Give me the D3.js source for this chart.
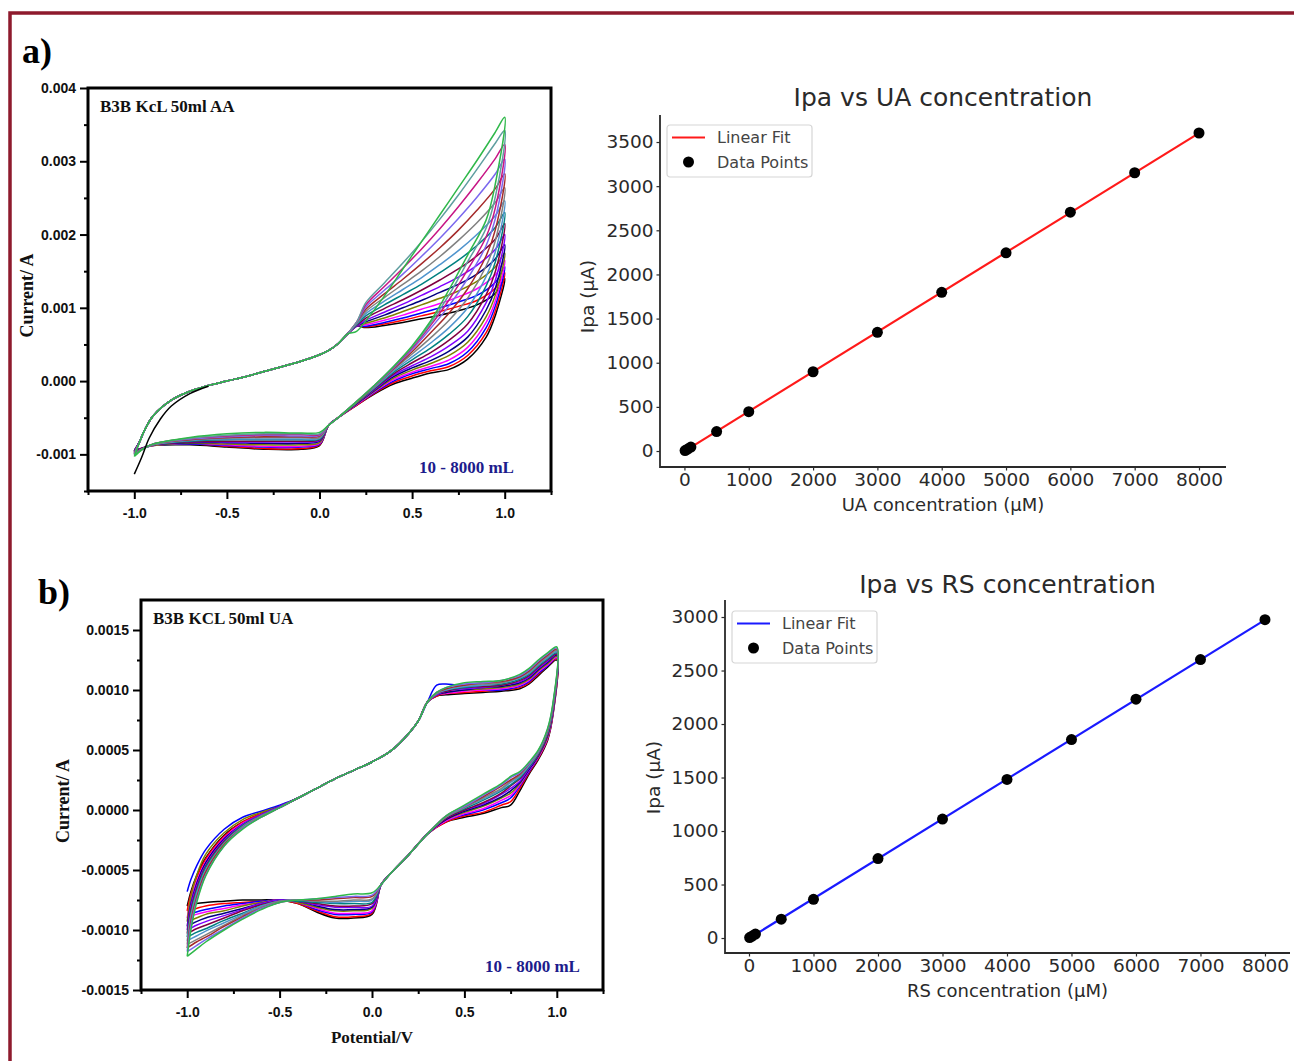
<!DOCTYPE html>
<html>
<head>
<meta charset="utf-8">
<script src="https://cdn.jsdelivr.net/npm/d3@7"></script>
<style>
  body { margin: 0; background: #fff; }
</style>
</head>
<body>
<script>
// ---------- panel a, left: CV curves (B3B KcL 50ml AA) ----------
// shared forward sweep, -0.97 .. 0.15 V
const aFwdCommonE = [-0.97, -0.95, -0.9, -0.8, -0.7, -0.6, -0.5, -0.4, -0.3, -0.2, -0.1, 0.0, 0.05, 0.1, 0.15];
const aFwdCommonI = [-0.00082, -0.0007, -0.00048, -0.00026, -0.00014, -0.00006, 0.0, 0.00006, 0.00013, 0.0002, 0.00027, 0.00036, 0.00042, 0.00051, 0.00064];
// forward sweep after the shoulder, one row per scan
const aFwdFanE = [0.2, 0.25, 0.35, 0.45, 0.55, 0.65, 0.75, 0.85, 0.95, 1.0];
const aFwdFanI = [
  [0.00075, 0.00073, 0.00076, 0.0008, 0.00085, 0.0009, 0.00096, 0.00104, 0.0012, 0.0014],
  [0.00075, 0.00074, 0.00078, 0.00083, 0.00089, 0.00095, 0.00102, 0.0011, 0.00127, 0.00148],
  [0.00075, 0.00075, 0.0008, 0.00086, 0.00093, 0.001, 0.00108, 0.00117, 0.00135, 0.00156],
  [0.00075, 0.00077, 0.00083, 0.0009, 0.00098, 0.00106, 0.00115, 0.00126, 0.00145, 0.00165],
  [0.00075, 0.00079, 0.00086, 0.00095, 0.00104, 0.00113, 0.00123, 0.00136, 0.00156, 0.00175],
  [0.00075, 0.00081, 0.0009, 0.001, 0.0011, 0.00121, 0.00132, 0.00146, 0.00167, 0.00186],
  [0.00075, 0.00083, 0.00094, 0.00105, 0.00117, 0.00129, 0.00142, 0.00158, 0.0018, 0.002],
  [0.00076, 0.00086, 0.00099, 0.00111, 0.00124, 0.00138, 0.00153, 0.00171, 0.00194, 0.00215],
  [0.00077, 0.00089, 0.00104, 0.00118, 0.00132, 0.00148, 0.00165, 0.00185, 0.0021, 0.0023],
  [0.00078, 0.00092, 0.00109, 0.00125, 0.00141, 0.00159, 0.00178, 0.002, 0.00226, 0.00246],
  [0.00079, 0.00095, 0.00114, 0.00132, 0.0015, 0.0017, 0.00192, 0.00216, 0.00244, 0.00264],
  [0.0008, 0.00098, 0.00119, 0.00139, 0.0016, 0.00182, 0.00206, 0.00233, 0.00263, 0.00283],
  [0.0008, 0.00101, 0.00124, 0.00146, 0.0017, 0.00195, 0.00222, 0.00251, 0.00283, 0.00303],
  [0.0008, 0.00104, 0.00129, 0.00154, 0.0018, 0.00208, 0.00238, 0.0027, 0.00304, 0.00323],
  [0.0008, 0.00107, 0.00134, 0.00161, 0.0019, 0.00221, 0.00254, 0.00289, 0.00325, 0.00342],
  [0.00068, 0.00082, 0.00116, 0.00153, 0.0019, 0.00227, 0.00264, 0.00301, 0.0034, 0.0036]
];
// reverse sweep from +1.0 V
const aRevFanE = [0.95, 0.9, 0.8, 0.7, 0.6, 0.5, 0.4, 0.3, 0.2, 0.1, 0.05];
const aRevFanI = [
  [0.0009, 0.0006, 0.0003, 0.00016, 0.00011, 0.00004, -0.00004, -0.00017, -0.00033, -0.0005, -0.0006],
  [0.00096, 0.00066, 0.00035, 0.0002, 0.00014, 0.00007, -0.00002, -0.00016, -0.00033, -0.0005, -0.0006],
  [0.00103, 0.00073, 0.0004, 0.00024, 0.00017, 0.0001, 0.0, -0.00015, -0.00032, -0.0005, -0.0006],
  [0.0011, 0.0008, 0.00046, 0.00029, 0.0002, 0.00012, 0.00002, -0.00014, -0.00032, -0.0005, -0.0006],
  [0.00118, 0.00088, 0.00053, 0.00035, 0.00024, 0.00015, 0.00004, -0.00013, -0.00031, -0.0005, -0.0006],
  [0.00127, 0.00097, 0.0006, 0.00041, 0.00028, 0.00018, 0.00006, -0.00012, -0.00031, -0.0005, -0.0006],
  [0.00138, 0.00107, 0.00068, 0.00048, 0.00033, 0.00021, 0.00008, -0.00011, -0.0003, -0.0005, -0.0006],
  [0.0015, 0.00118, 0.00078, 0.00056, 0.00039, 0.00025, 0.0001, -0.0001, -0.0003, -0.0005, -0.0006],
  [0.00163, 0.0013, 0.00088, 0.00064, 0.00045, 0.00029, 0.00012, -0.00009, -0.0003, -0.0005, -0.0006],
  [0.00177, 0.00143, 0.001, 0.00073, 0.00052, 0.00033, 0.00014, -0.00008, -0.00029, -0.0005, -0.0006],
  [0.00192, 0.00157, 0.00113, 0.00083, 0.00059, 0.00037, 0.00016, -0.00007, -0.00029, -0.0005, -0.0006],
  [0.00207, 0.00171, 0.00126, 0.00093, 0.00066, 0.0004, 0.00017, -0.00006, -0.00029, -0.0005, -0.0006],
  [0.00222, 0.00185, 0.0014, 0.00103, 0.00072, 0.00043, 0.00018, -0.00006, -0.00028, -0.0005, -0.0006],
  [0.00237, 0.00197, 0.00152, 0.00111, 0.00076, 0.00045, 0.00019, -0.00005, -0.00028, -0.0005, -0.0006],
  [0.00252, 0.00209, 0.00163, 0.00118, 0.00079, 0.00047, 0.0002, -0.00005, -0.00028, -0.0005, -0.0006],
  [0.0027, 0.0022, 0.00172, 0.00125, 0.00082, 0.00048, 0.0002, -0.00005, -0.00028, -0.0005, -0.0006]
];
// reverse sweep, flat cathodic part back to -1.0 V
const aLowE = [0.0, -0.1, -0.3, -0.5, -0.7, -0.9, -0.95, -1.0];
const aLowI = [
  [-0.00088, -0.00093, -0.00093, -0.0009, -0.00087, -0.00088, -0.00091, -0.00095],
  [-0.00087, -0.00092, -0.00092, -0.00089, -0.00086, -0.00088, -0.00091, -0.00095],
  [-0.00086, -0.0009, -0.0009, -0.00088, -0.00086, -0.00088, -0.00091, -0.00095],
  [-0.00085, -0.00089, -0.00089, -0.00087, -0.00085, -0.00088, -0.00091, -0.00096],
  [-0.00084, -0.00087, -0.00087, -0.00086, -0.00085, -0.00088, -0.00091, -0.00096],
  [-0.00082, -0.00085, -0.00085, -0.00084, -0.00084, -0.00087, -0.00091, -0.00096],
  [-0.00081, -0.00083, -0.00083, -0.00083, -0.00083, -0.00087, -0.00091, -0.00097],
  [-0.0008, -0.00082, -0.00082, -0.00082, -0.00083, -0.00087, -0.00091, -0.00097],
  [-0.00079, -0.0008, -0.0008, -0.0008, -0.00082, -0.00087, -0.00092, -0.00098],
  [-0.00078, -0.00079, -0.00079, -0.00079, -0.00081, -0.00087, -0.00092, -0.00098],
  [-0.00077, -0.00077, -0.00077, -0.00078, -0.0008, -0.00087, -0.00092, -0.00099],
  [-0.00075, -0.00076, -0.00076, -0.00077, -0.0008, -0.00086, -0.00092, -0.00099],
  [-0.00074, -0.00075, -0.00074, -0.00076, -0.00079, -0.00086, -0.00092, -0.001],
  [-0.00073, -0.00073, -0.00073, -0.00075, -0.00078, -0.00086, -0.00092, -0.001],
  [-0.00072, -0.00072, -0.00072, -0.00074, -0.00078, -0.00086, -0.00092, -0.00101],
  [-0.0007, -0.00071, -0.0007, -0.00072, -0.00077, -0.00086, -0.00092, -0.00103]
];
// first scan, starts lower at -1.0 V and joins the bundle
const aFirstScanE = [-1.0, -0.96, -0.92, -0.86, -0.8, -0.7, -0.6];
const aFirstScanI = [-0.00127, -0.00104, -0.00078, -0.00052, -0.00034, -0.00017, -0.00007];

// ---------- panel b, left: CV curves (B3B KCL 50ml UA) ----------
const bFwdLeftE = [-1.0, -0.98, -0.95, -0.9, -0.8, -0.7, -0.6, -0.5];
const bFwdLeftI = [
  [-0.0008, -0.00068, -0.00055, -0.0004, -0.00021, -0.0001, -0.00003, 0.00003],
  [-0.00084, -0.0007, -0.00057, -0.00041, -0.00022, -0.0001, -0.00003, 0.00003],
  [-0.00068, -0.00058, -0.00047, -0.00033, -0.00016, -0.00006, -0.00001, 0.00004],
  [-0.0009, -0.00074, -0.0006, -0.00043, -0.00023, -0.00011, -0.00004, 0.00003],
  [-0.00093, -0.00072, -0.00055, -0.00037, -0.00019, -0.00008, -0.00002, 0.00003],
  [-0.00097, -0.00078, -0.00062, -0.00044, -0.00024, -0.00012, -0.00004, 0.00003],
  [-0.001, -0.0008, -0.00064, -0.00046, -0.00025, -0.00012, -0.00004, 0.00003],
  [-0.00103, -0.00083, -0.00066, -0.00047, -0.00026, -0.00013, -0.00005, 0.00002],
  [-0.00106, -0.00086, -0.00068, -0.00048, -0.00027, -0.00013, -0.00005, 0.00002],
  [-0.00109, -0.00088, -0.0007, -0.0005, -0.00028, -0.00014, -0.00005, 0.00002],
  [-0.00112, -0.0009, -0.00072, -0.00051, -0.00028, -0.00014, -0.00005, 0.00002],
  [-0.00115, -0.00093, -0.00074, -0.00052, -0.00029, -0.00015, -0.00006, 0.00002],
  [-0.00118, -0.00096, -0.00076, -0.00054, -0.0003, -0.00015, -0.00006, 0.00002],
  [-0.00122, -0.001, -0.00078, -0.00055, -0.0003, -0.00016, -0.00006, 0.00002]
];
const bFwdMidE = [-0.4, -0.3, -0.2, -0.1, 0.0, 0.1, 0.2, 0.25, 0.3];
const bFwdMidI = [0.0001, 0.00018, 0.00026, 0.00033, 0.0004, 0.00049, 0.00064, 0.00074, 0.0009];
const bFwdRightE = [0.35, 0.4, 0.5, 0.6, 0.7, 0.8, 0.85, 0.9, 0.95, 1.0];
const bFwdRightI = [
  [0.00095, 0.00096, 0.00097, 0.00098, 0.00099, 0.00101, 0.00105, 0.00112, 0.00119, 0.00125],
  [0.00095, 0.00097, 0.00098, 0.00099, 0.001, 0.00102, 0.00106, 0.00113, 0.0012, 0.00126],
  [0.00104, 0.00105, 0.00103, 0.001, 0.001, 0.00103, 0.00107, 0.00114, 0.0012, 0.00127],
  [0.00096, 0.00097, 0.00099, 0.001, 0.00101, 0.00104, 0.00108, 0.00115, 0.00121, 0.00127],
  [0.00096, 0.00098, 0.001, 0.00101, 0.00102, 0.00105, 0.00109, 0.00116, 0.00122, 0.00128],
  [0.00096, 0.00098, 0.001, 0.00102, 0.00103, 0.00106, 0.0011, 0.00117, 0.00123, 0.00129],
  [0.00096, 0.00099, 0.00101, 0.00102, 0.00104, 0.00107, 0.00111, 0.00118, 0.00124, 0.0013],
  [0.00097, 0.00099, 0.00102, 0.00103, 0.00104, 0.00108, 0.00112, 0.00119, 0.00125, 0.0013],
  [0.00097, 0.001, 0.00102, 0.00104, 0.00105, 0.00109, 0.00113, 0.0012, 0.00126, 0.00131],
  [0.00097, 0.001, 0.00103, 0.00104, 0.00106, 0.0011, 0.00114, 0.00121, 0.00127, 0.00132],
  [0.00097, 0.00101, 0.00104, 0.00105, 0.00106, 0.00111, 0.00115, 0.00122, 0.00128, 0.00133],
  [0.00098, 0.00101, 0.00104, 0.00106, 0.00107, 0.00111, 0.00116, 0.00123, 0.00129, 0.00134],
  [0.00098, 0.00102, 0.00105, 0.00106, 0.00108, 0.00112, 0.00117, 0.00124, 0.0013, 0.00135],
  [0.00098, 0.00102, 0.00106, 0.00107, 0.00108, 0.00113, 0.00118, 0.00125, 0.00131, 0.00136]
];
const bRevE = [0.98, 0.95, 0.9, 0.85, 0.8, 0.75, 0.7, 0.6, 0.5, 0.4];
const bRevI = [
  [0.0008, 0.00058, 0.00042, 0.0003, 0.00016, 0.00004, 0.00002, -0.00003, -0.00006, -0.0001],
  [0.00081, 0.00059, 0.00043, 0.00031, 0.00018, 0.00007, 0.00004, -0.00002, -0.00005, -0.0001],
  [0.00082, 0.0006, 0.00044, 0.00032, 0.0002, 0.0001, 0.00006, 0.0, -0.00004, -0.00009],
  [0.00082, 0.0006, 0.00044, 0.00033, 0.00021, 0.00012, 0.00008, 0.00001, -0.00003, -0.00009],
  [0.00083, 0.00061, 0.00045, 0.00034, 0.00022, 0.00014, 0.0001, 0.00003, -0.00002, -0.00008],
  [0.00084, 0.00062, 0.00045, 0.00034, 0.00023, 0.00016, 0.00011, 0.00004, -0.00001, -0.00008],
  [0.00085, 0.00063, 0.00046, 0.00035, 0.00024, 0.00018, 0.00013, 0.00005, 0.0, -0.00007],
  [0.00085, 0.00063, 0.00046, 0.00036, 0.00026, 0.0002, 0.00014, 0.00006, 0.0, -0.00007],
  [0.00086, 0.00064, 0.00047, 0.00036, 0.00027, 0.00021, 0.00016, 0.00008, 0.00001, -0.00006],
  [0.00087, 0.00065, 0.00048, 0.00037, 0.00028, 0.00023, 0.00017, 0.00009, 0.00002, -0.00006],
  [0.00087, 0.00066, 0.00048, 0.00038, 0.00029, 0.00024, 0.00018, 0.0001, 0.00002, -0.00006],
  [0.00088, 0.00066, 0.00049, 0.00039, 0.0003, 0.00025, 0.0002, 0.00011, 0.00003, -0.00005],
  [0.00089, 0.00067, 0.00049, 0.00039, 0.00031, 0.00027, 0.00021, 0.00012, 0.00003, -0.00005],
  [0.0009, 0.00068, 0.0005, 0.0004, 0.00032, 0.00028, 0.00022, 0.00013, 0.00004, -0.00005]
];
const bRevMidE = [0.3, 0.2, 0.1, 0.05];
const bRevMidI = [-0.0002, -0.00037, -0.00053, -0.00062];
const bLowE = [0.0, -0.1, -0.2, -0.3, -0.4, -0.5, -0.6, -0.7, -0.8, -0.9, -0.95, -1.0];
const bLowI = [
  [-0.00087, -0.0009, -0.0009, -0.00085, -0.00078, -0.00075, -0.00075, -0.00075, -0.00076, -0.00077, -0.00078, -0.0008],
  [-0.00086, -0.00089, -0.00089, -0.00084, -0.00078, -0.00075, -0.00076, -0.00077, -0.00078, -0.0008, -0.00082, -0.00084],
  [-0.00085, -0.00087, -0.00087, -0.00083, -0.00077, -0.00075, -0.00076, -0.00078, -0.0008, -0.00083, -0.00085, -0.00088],
  [-0.00084, -0.00086, -0.00086, -0.00082, -0.00077, -0.00075, -0.00077, -0.00079, -0.00082, -0.00085, -0.00087, -0.0009],
  [-0.00082, -0.00084, -0.00084, -0.00081, -0.00077, -0.00075, -0.00077, -0.0008, -0.00084, -0.00087, -0.0009, -0.00093],
  [-0.00081, -0.00083, -0.00083, -0.0008, -0.00076, -0.00075, -0.00078, -0.00082, -0.00086, -0.0009, -0.00093, -0.00097],
  [-0.0008, -0.00081, -0.00081, -0.00079, -0.00076, -0.00075, -0.00078, -0.00083, -0.00088, -0.00093, -0.00096, -0.001],
  [-0.00078, -0.0008, -0.0008, -0.00078, -0.00076, -0.00076, -0.00079, -0.00084, -0.0009, -0.00096, -0.00099, -0.00103],
  [-0.00077, -0.00078, -0.00078, -0.00077, -0.00076, -0.00076, -0.0008, -0.00086, -0.00092, -0.00099, -0.00102, -0.00106],
  [-0.00075, -0.00076, -0.00077, -0.00076, -0.00075, -0.00076, -0.0008, -0.00087, -0.00094, -0.00101, -0.00105, -0.00109],
  [-0.00074, -0.00075, -0.00076, -0.00076, -0.00075, -0.00076, -0.00081, -0.00088, -0.00096, -0.00104, -0.00108, -0.00112],
  [-0.00072, -0.00073, -0.00074, -0.00075, -0.00075, -0.00077, -0.00082, -0.00089, -0.00097, -0.00106, -0.0011, -0.00115],
  [-0.00071, -0.00072, -0.00073, -0.00074, -0.00075, -0.00077, -0.00082, -0.0009, -0.00099, -0.00108, -0.00113, -0.00118],
  [-0.00069, -0.0007, -0.00072, -0.00074, -0.00075, -0.00077, -0.00083, -0.00091, -0.001, -0.0011, -0.00116, -0.00122]
];

// CV tick values
const cvXTicks = [-1.0, -0.5, 0.0, 0.5, 1.0];
const cvXMinor = [-1.25, -0.75, -0.25, 0.25, 0.75, 1.25];
const aYTicks = [-0.001, 0.0, 0.001, 0.002, 0.003, 0.004];
const aYMinor = [-0.0015, -0.0005, 0.0005, 0.0015, 0.0025, 0.0035];
const bYTicks = [-0.0015, -0.001, -0.0005, 0.0, 0.0005, 0.001, 0.0015];
const bYMinor = [-0.00125, -0.00075, -0.00025, 0.00025, 0.00075, 0.00125];

// ---------- right panels: Ipa vs concentration ----------
const uaConc = [10, 50, 100, 500, 1000, 2000, 3000, 4000, 5000, 6000, 7000, 8000];
const uaIpa = [5, 22, 45, 220, 445, 898, 1345, 1797, 2245, 2705, 3152, 3602];
const rsConc = [10, 50, 100, 500, 1000, 2000, 3000, 4000, 5000, 6000, 7000, 8000];
const rsIpa = [4, 18, 37, 176, 362, 743, 1112, 1482, 1855, 2232, 2602, 2975];
const concTicks = [0, 1000, 2000, 3000, 4000, 5000, 6000, 7000, 8000];
const uaIpaTicks = [0, 500, 1000, 1500, 2000, 2500, 3000, 3500];
const rsIpaTicks = [0, 500, 1000, 1500, 2000, 2500, 3000];

const cvPalette = ['#000000', '#ff0000', '#0000ff', '#ff00ff', '#808000', '#000080', '#8000ff',
                   '#800040', '#008080', '#4f94cd', '#808080', '#a52a2a', '#7b68ee', '#c71585', '#5f9ea0'];
const lastGreen = '#2fb84a';

const svg = d3.select('body').append('svg')
  .attr('width', 1294)
  .attr('height', 1061);

svg.append('rect').attr('width', 1294).attr('height', 1061).attr('fill', '#fff');

// maroon frame round the figure (top and left edges visible)
svg.append('path')
  .attr('d', 'M10,1061 V13 H1294')
  .attr('fill', 'none')
  .attr('stroke', '#8e1a2d')
  .attr('stroke-width', 3.5);

// panel letters
svg.append('text').attr('x', 22).attr('y', 63).text('a)')
  .style('font-family', 'Liberation Serif').style('font-weight', 'bold').style('font-size', '36px');
svg.append('text').attr('x', 38).attr('y', 604).text('b)')
  .style('font-family', 'Liberation Serif').style('font-weight', 'bold').style('font-size', '36px');

function zipPts(es, is) {
  return es.map((e, i) => [e, is[i]]);
}

// build closed scans for panel a
const aScans = aFwdFanI.map((row, k) => {
  const low = aLowI[k];
  return [[-1.0, low[low.length - 1]]]
    .concat(zipPts(aFwdCommonE, aFwdCommonI))
    .concat(zipPts(aFwdFanE, row))
    .concat(zipPts(aRevFanE, aRevFanI[k]))
    .concat(zipPts(aLowE, low));
});

const bScans = bFwdLeftI.map((row, k) => {
  return zipPts(bFwdLeftE, row)
    .concat(zipPts(bFwdMidE, bFwdMidI))
    .concat(zipPts(bFwdRightE, bFwdRightI[k]))
    .concat(zipPts(bRevE, bRevI[k]))
    .concat(zipPts(bRevMidE, bRevMidI))
    .concat(zipPts(bLowE, bLowI[k]));
});

function drawCV(cfg) {
  const x = d3.scaleLinear().domain([-1.25, 1.25]).range([cfg.left, cfg.right]);
  const y = d3.scaleLinear().domain(cfg.yDomain).range([cfg.bottom, cfg.top]);
  const g = svg.append('g');

  const line = d3.line()
    .x(d => x(d[0]))
    .y(d => y(d[1]))
    .curve(d3.curveCatmullRom.alpha(0.5));

  const n = cfg.scans.length;
  cfg.scans.forEach((pts, k) => {
    g.append('path')
      .attr('d', line(pts))
      .attr('fill', 'none')
      .attr('stroke', k === n - 1 ? lastGreen : cvPalette[k % cvPalette.length])
      .attr('stroke-width', 1.5);
  });

  if (cfg.extra) {
    g.append('path')
      .attr('d', line(cfg.extra))
      .attr('fill', 'none')
      .attr('stroke', '#000')
      .attr('stroke-width', 1.5);
  }

  // minor + major ticks
  const fmtX = d => d.toFixed(1);
  const fmtY = d => d.toFixed(cfg.yDec);

  const axes = [
    d3.axisLeft(y).tickValues(cfg.yMinor).tickSize(4).tickFormat(''),
    d3.axisLeft(y).tickValues(cfg.yTicks).tickSize(8).tickPadding(4).tickFormat(fmtY)
  ];
  axes.forEach(ax => {
    g.append('g').attr('transform', `translate(${cfg.left},0)`).call(ax.tickSizeOuter(0));
  });
  const xaxes = [
    d3.axisBottom(x).tickValues(cvXMinor).tickSize(4).tickFormat(''),
    d3.axisBottom(x).tickValues(cvXTicks).tickSize(8).tickPadding(9).tickFormat(fmtX)
  ];
  xaxes.forEach(ax => {
    g.append('g').attr('transform', `translate(0,${cfg.bottom})`).call(ax.tickSizeOuter(0));
  });
  g.selectAll('.domain').remove();
  g.selectAll('.tick line').attr('stroke', '#000').attr('stroke-width', 2);
  g.selectAll('.tick text')
    .attr('fill', '#111')
    .style('font-family', 'Liberation Sans')
    .style('font-weight', 'bold')
    .style('font-size', '14px');

  // frame
  g.append('rect')
    .attr('x', cfg.left).attr('y', cfg.top)
    .attr('width', cfg.right - cfg.left).attr('height', cfg.bottom - cfg.top)
    .attr('fill', 'none')
    .attr('stroke', '#000')
    .attr('stroke-width', 3);

  const serif = sel => sel.style('font-family', 'Liberation Serif').style('font-weight', 'bold');

  serif(g.append('text').attr('x', cfg.left + 12).attr('y', cfg.top + 24).text(cfg.title))
    .style('font-size', '17px').attr('fill', '#111');
  serif(g.append('text').attr('x', cfg.rangeX).attr('y', cfg.bottom - 18).text('10 - 8000 mL'))
    .style('font-size', '17px').attr('fill', '#1c1c8c');
  serif(g.append('text')
    .attr('transform', `translate(${cfg.yLabelX},${(cfg.top + cfg.bottom) / 2 + 6}) rotate(-90)`)
    .attr('text-anchor', 'middle')
    .text('Current/ A'))
    .style('font-size', '18px').attr('fill', '#111');
  if (cfg.xLabel) {
    serif(g.append('text')
      .attr('x', x(0)).attr('y', cfg.bottom + 53)
      .attr('text-anchor', 'middle')
      .text(cfg.xLabel))
      .style('font-size', '17px').attr('fill', '#111');
  }
}

drawCV({
  left: 88, right: 551, top: 88, bottom: 491,
  yDomain: [-0.0015, 0.004], yTicks: aYTicks, yMinor: aYMinor, yDec: 3,
  scans: aScans, extra: zipPts(aFirstScanE, aFirstScanI),
  title: 'B3B KcL 50ml AA', rangeX: 419, yLabelX: 33
});

drawCV({
  left: 141, right: 603, top: 600, bottom: 990,
  yDomain: [-0.0015, 0.00175], yTicks: bYTicks, yMinor: bYMinor, yDec: 4,
  scans: bScans,
  title: 'B3B KCL 50ml UA', rangeX: 485, yLabelX: 69, xLabel: 'Potential/V'
});

// linear fit panels
function drawFit(cfg) {
  const x = d3.scaleLinear().domain(cfg.xDomain).range([cfg.left, cfg.right]);
  const y = d3.scaleLinear().domain(cfg.yDomain).range([cfg.bottom, cfg.top]);
  const g = svg.append('g');
  const ink = '#2a2a2a';
  const font = 'DejaVu Sans';

  // least squares fit of the points
  const mx = d3.mean(cfg.xs), my = d3.mean(cfg.ys);
  const slope = d3.sum(cfg.xs, (v, i) => (v - mx) * (cfg.ys[i] - my)) / d3.sum(cfg.xs, v => (v - mx) * (v - mx));
  const icpt = my - slope * mx;
  const ext = d3.extent(cfg.xs);

  g.append('line')
    .attr('x1', x(ext[0])).attr('y1', y(icpt + slope * ext[0]))
    .attr('x2', x(ext[1])).attr('y2', y(icpt + slope * ext[1]))
    .attr('stroke', cfg.color)
    .attr('stroke-width', 2.2);

  g.selectAll('circle.pt')
    .data(cfg.xs)
    .enter().append('circle')
    .attr('class', 'pt')
    .attr('cx', d => x(d))
    .attr('cy', (d, i) => y(cfg.ys[i]))
    .attr('r', 5.5)
    .attr('fill', '#000');

  const intFmt = d3.format('d');
  g.append('g').attr('transform', `translate(${cfg.left},0)`)
    .call(d3.axisLeft(y).tickValues(cfg.yTicks).tickFormat(intFmt).tickSize(3.5).tickPadding(3).tickSizeOuter(0));
  g.append('g').attr('transform', `translate(0,${cfg.bottom})`)
    .call(d3.axisBottom(x).tickValues(concTicks).tickFormat(intFmt).tickSize(3.5).tickPadding(2).tickSizeOuter(0));
  g.selectAll('.domain').remove();
  g.selectAll('.tick line').attr('stroke', ink).attr('stroke-width', 1.2);
  g.selectAll('.tick text').attr('fill', ink).style('font-family', font).style('font-size', '18.5px');

  // spines: left and bottom only
  g.append('path')
    .attr('d', `M${cfg.left},${cfg.top} V${cfg.bottom} H${cfg.right}`)
    .attr('fill', 'none')
    .attr('stroke', ink)
    .attr('stroke-width', 1.8);

  g.append('text')
    .attr('x', (cfg.left + cfg.right) / 2).attr('y', cfg.titleY)
    .attr('text-anchor', 'middle')
    .attr('fill', ink)
    .style('font-family', font).style('font-size', '25px')
    .text(cfg.title);
  g.append('text')
    .attr('x', (cfg.left + cfg.right) / 2).attr('y', cfg.bottom + 44)
    .attr('text-anchor', 'middle')
    .attr('fill', ink)
    .style('font-family', font).style('font-size', '18px')
    .text(cfg.xLabel);
  g.append('text')
    .attr('transform', `translate(${cfg.yLabelX},${y(cfg.yLabelAt)}) rotate(-90)`)
    .attr('text-anchor', 'middle')
    .attr('fill', ink)
    .style('font-family', font).style('font-size', '18.5px')
    .text('Ipa (µA)');

  // legend
  const lg = g.append('g').attr('transform', `translate(${cfg.left + 7},${cfg.legendTop})`);
  lg.append('rect')
    .attr('width', 145).attr('height', 52).attr('rx', 3)
    .attr('fill', '#fff').attr('fill-opacity', 0.85)
    .attr('stroke', '#d6d6d6').attr('stroke-width', 1.2);
  lg.append('line')
    .attr('x1', 5).attr('x2', 38).attr('y1', 12.5).attr('y2', 12.5)
    .attr('stroke', cfg.color).attr('stroke-width', 2.2);
  lg.append('circle').attr('cx', 21.5).attr('cy', 37).attr('r', 5.5).attr('fill', '#000');
  lg.selectAll('text.lgt')
    .data(['Linear Fit', 'Data Points'])
    .enter().append('text')
    .attr('class', 'lgt')
    .attr('x', 50)
    .attr('y', (d, i) => 18 + i * 24.5)
    .attr('fill', '#444')
    .style('font-family', font).style('font-size', '16px')
    .text(d => d);
}

drawFit({
  left: 660, right: 1226, top: 115, bottom: 467,
  xDomain: [-380, 8420], yDomain: [-181, 3806],
  xs: uaConc, ys: uaIpa, yTicks: uaIpaTicks, color: '#ff1a1a',
  title: 'Ipa vs UA concentration', titleY: 106,
  xLabel: 'UA concentration (µM)', yLabelX: 594, yLabelAt: 1750,
  legendTop: 125
});

drawFit({
  left: 725, right: 1290, top: 600, bottom: 953,
  xDomain: [-372, 8388], yDomain: [-140, 3159],
  xs: rsConc, ys: rsIpa, yTicks: rsIpaTicks, color: '#1a1aff',
  title: 'Ipa vs RS concentration', titleY: 593,
  xLabel: 'RS concentration (µM)', yLabelX: 660, yLabelAt: 1500,
  legendTop: 611
});
</script>
</body>
</html>
